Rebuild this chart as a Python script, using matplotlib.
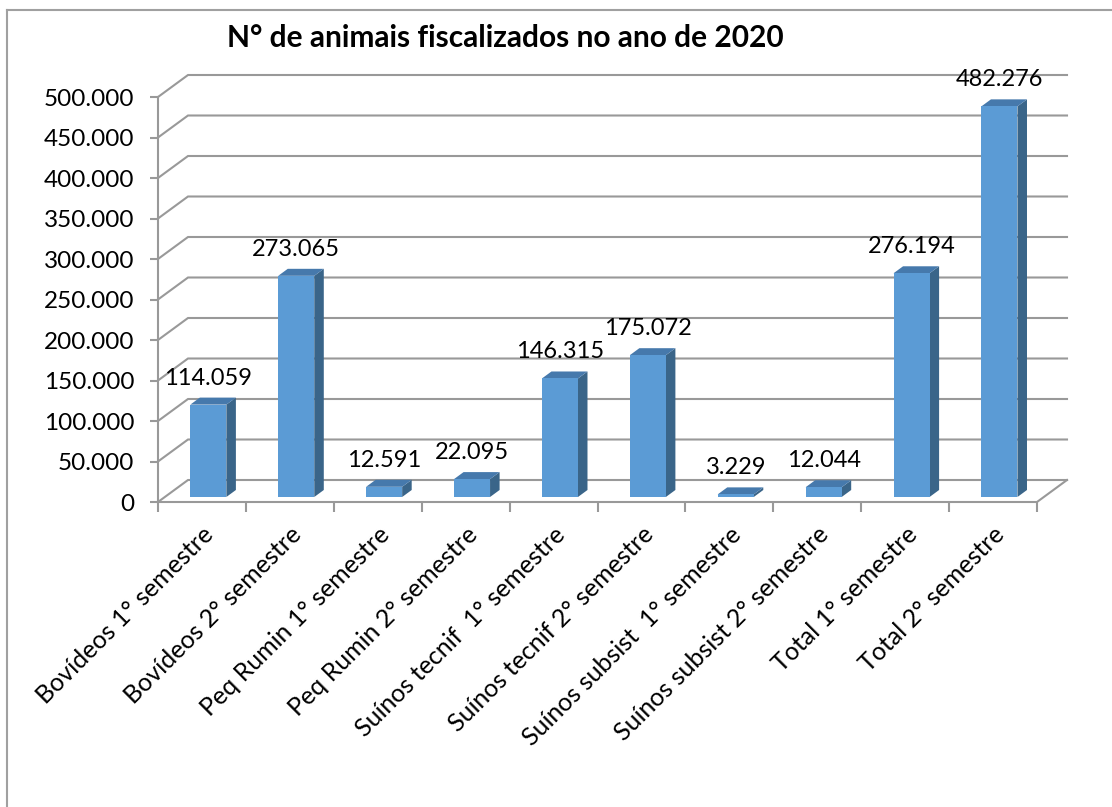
import matplotlib
matplotlib.use("Agg")
import matplotlib.pyplot as plt
from matplotlib.patches import Polygon
from matplotlib.lines import Line2D

plt.rcParams['font.family'] = ['Lato', 'DejaVu Sans']

categories = ['Bovídeos 1° semestre', 'Bovídeos 2° semestre',
              'Peq Rumin 1° semestre', 'Peq Rumin 2° semestre',
              'Suínos tecnif  1° semestre', 'Suínos tecnif 2° semestre',
              'Suínos subsist  1° semestre', 'Suínos subsist 2° semestre',
              'Total 1° semestre', 'Total 2° semestre']
values = [114059, 273065, 12591, 22095, 146315, 175072, 3229, 12044, 276194, 482276]
y_ticks = list(range(0, 500001, 50000))
title = 'N° de animais fiscalizados no ano de 2020'

W, H = 1112, 807
X0, X1, Y0, YT = 158, 1037, 502, 97
YMAX = 500000
n = len(categories)

px_x = (X1 - X0) / n          # pixels per slot
px_y = (Y0 - YT) / YMAX       # pixels per unit
DX = 30 / px_x                # depth offset in data units
DY = 22 / px_y

grid_c = '#999999'
front_c = '#5B9BD5'
side_c = '#3A6589'
top_c = '#4679AC'

fig = plt.figure(figsize=(W / 100, H / 100), dpi=100)
ax = fig.add_axes([X0 / W, 1 - Y0 / H, (X1 - X0) / W, (Y0 - YT) / H])
ax.set_xlim(0, n)
ax.set_ylim(0, YMAX)
for s in ax.spines.values():
    s.set_visible(False)
ax.patch.set_visible(False)

# walls: gridlines running back and across
for v in y_ticks:
    ax.plot([0, DX, n + DX], [v, v + DY, v + DY], color=grid_c, lw=1.5,
            clip_on=False, zorder=1, solid_joinstyle='miter')
ax.plot([0, n, n + DX], [0, 0, DY], color=grid_c, lw=1.5, clip_on=False, zorder=1)
ax.plot([0, 0], [0, YMAX], color=grid_c, lw=1.5, clip_on=False, zorder=1)

# bars
d0, d1 = 5 / 22, 12 / 22
for i, v in enumerate(values):
    xa = i + 0.29 + d0 * DX
    xb = i + 0.70 + d0 * DX
    yb = d0 * DY
    ex, ey = (d1 - d0) * DX, (d1 - d0) * DY
    ax.add_patch(Polygon([(xb, yb), (xb + ex, yb + ey), (xb + ex, yb + v + ey), (xb, yb + v)],
                         closed=True, fc=side_c, ec='none', zorder=3, clip_on=False))
    ax.add_patch(Polygon([(xa, yb + v), (xb, yb + v), (xb + ex, yb + v + ey), (xa + ex, yb + v + ey)],
                         closed=True, fc=top_c, ec='none', zorder=3, clip_on=False))
    ax.add_patch(Polygon([(xa, yb), (xb, yb), (xb, yb + v), (xa, yb + v)],
                         closed=True, fc=front_c, ec='none', zorder=4, clip_on=False))
    label = f'{v:,}'.replace(',', '.')
    ax.text((xa + xb) / 2, yb + v + ey + 9 / px_y, label, ha='center', va='bottom',
            fontsize=17, zorder=5, clip_on=False)

# axes ticks
ax.set_yticks(y_ticks)
ax.set_yticklabels([f'{v:,}'.replace(',', '.') for v in y_ticks], fontsize=17.5)
ax.tick_params(axis='y', length=6, width=1.5, color=grid_c, pad=11)
ax.set_xticks([i + 0.5 for i in range(n)])
ax.set_xticklabels(categories, fontsize=18, rotation=45, ha='right', rotation_mode='anchor')
ax.set_xticks(range(n + 1), minor=True)
ax.tick_params(axis='x', which='major', length=0, pad=15)
ax.tick_params(axis='x', which='minor', length=7, width=1.5, color=grid_c)

fig.text(505 / W, 1 - 38 / H, title, ha='center', va='center', fontsize=21.5, fontweight='bold')

# chart border (left and top visible)
fig.add_artist(Line2D([7 / W, 7 / W], [0, 1 - 10 / H], color='#A0A0A0', lw=1.5))
fig.add_artist(Line2D([7 / W, 1], [1 - 10 / H, 1 - 10 / H], color='#A0A0A0', lw=1.5))

fig.savefig('out.png', dpi=100)
